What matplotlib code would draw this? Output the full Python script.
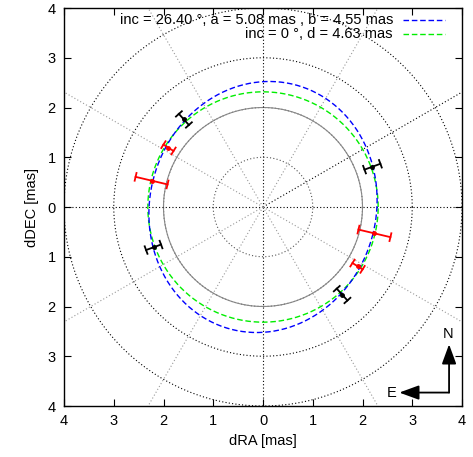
import numpy as np
import matplotlib
matplotlib.use('Agg')
import matplotlib.pyplot as plt

plt.rcParams['font.family'] = ['Liberation Sans', 'DejaVu Sans']
plt.rcParams['font.size'] = 10.5

# fitted models (diameters in mas)
ell_inc = 26.40
ell_a = 5.08
ell_b = 4.55
ell_tilt = 15.0   # major axis tilt from north toward right (deg)
disk_d = 4.63

# measured points (plot coords, mas) with radial errors
blk_x = [-1.59, 2.20, -2.20, 1.59]
blk_y = [1.76, 0.81, -0.81, -1.76]
blk_err = [0.15, 0.17, 0.16, 0.16]
red_x = [-1.90, -2.24, 2.24, 1.90]
red_y = [1.19, 0.53, -0.53, -1.19]
red_err = [0.12, 0.33, 0.33, 0.12]

ticks = [-4, -3, -2, -1, 0, 1, 2, 3, 4]
tick_labels = ['4', '3', '2', '1', '0', '1', '2', '3', '4']

fig = plt.figure(figsize=(4.73, 4.57), dpi=100)
ax = fig.add_axes([64/473, 51/457, 398/473, 398/457])
ax.set_xlim(-4, 4)
ax.set_ylim(-4, 4)

# polar grid
t = np.linspace(0, 2*np.pi, 400)
for r in [1, 2, 3, 4]:
    col = '#555555' if r < 3 else 'black'
    ax.plot(r*np.cos(t), r*np.sin(t), ls=(0, (1, 2)), color=col, lw=0.8, zorder=1)
ax.plot(2*np.cos(t), 2*np.sin(t), color='#888888', lw=0.8, zorder=1)
for ang in range(0, 360, 30):
    a = np.radians(ang)
    col = 'black' if ang in (0, 30, 90, 180, 270) else '#999999'
    ax.plot([0, 6*np.cos(a)], [0, 6*np.sin(a)], ls=(0, (1, 2)), color=col, lw=0.8, zorder=1)

# ellipse model
th = np.radians(ell_tilt)
ex = ell_b/2*np.cos(t)
ey = ell_a/2*np.sin(t)
ax.plot(ex*np.cos(th) + ey*np.sin(th), -ex*np.sin(th) + ey*np.cos(th),
        color='#0000ff', lw=1.0, ls=(0, (4, 2)), zorder=3)
# uniform disk model
ax.plot(disk_d/2*np.cos(t), disk_d/2*np.sin(t), color='#00ee00', lw=1.0,
        ls=(0, (4, 2)), zorder=2)

# gnuplot-style key
keys = ['inc = %.2f °, a = %.2f mas , b = %.2f mas' % (ell_inc, ell_a, ell_b),
        'inc = 0 °, d = %.2f mas' % disk_d]
key_cols = ['#0000ff', '#00ee00']
for i, (txt, c) in enumerate(zip(keys, key_cols)):
    yk = 0.9686 - i*0.0339
    ax.text(0.8266, yk, txt, transform=ax.transAxes, ha='right', va='center')
    ax.plot([0.8518, 0.9573], [yk, yk], transform=ax.transAxes, color=c,
            lw=1.0, ls=(0, (4, 2)))

def radial_err(xs, ys, es, col):
    cap = 0.08
    for x, y, e in zip(xs, ys, es):
        r = np.hypot(x, y)
        ux, uy = x/r, y/r
        px, py = -uy, ux
        ax.plot([x - e*ux, x + e*ux], [y - e*uy, y + e*uy], color=col, lw=1.3, zorder=4)
        for s in (-1, 1):
            cx, cy = x + s*e*ux, y + s*e*uy
            ax.plot([cx - cap*px, cx + cap*px], [cy - cap*py, cy + cap*py],
                    color=col, lw=1.3, zorder=4)
    ax.plot(xs, ys, 'o', color=col, ms=2.5, zorder=5)

radial_err(blk_x, blk_y, blk_err, 'black')
radial_err(red_x, red_y, red_err, '#ff0000')

# N / E compass
arr = dict(arrowstyle='-|>,head_length=0.6,head_width=0.22', color='black',
           lw=1.3, mutation_scale=20, shrinkA=0, shrinkB=0)
ax.annotate('', xy=(3.74, -2.76), xytext=(3.74, -3.73), arrowprops=arr)
ax.annotate('', xy=(2.74, -3.73), xytext=(3.74, -3.73), arrowprops=arr)
ax.text(3.72, -2.55, 'N', ha='center', va='center')
ax.text(2.58, -3.73, 'E', ha='center', va='center')

ax.set_xticks(ticks)
ax.set_xticklabels(tick_labels)
ax.set_yticks(ticks)
ax.set_yticklabels(tick_labels)
ax.tick_params(direction='in', top=True, right=True, length=5, width=0.8, pad=6)
ax.set_xlabel('dRA [mas]', labelpad=4)
ax.set_ylabel('dDEC [mas]', labelpad=6)
for sp in ax.spines.values():
    sp.set_linewidth(1.0)

fig.savefig('out.png', dpi=100)
